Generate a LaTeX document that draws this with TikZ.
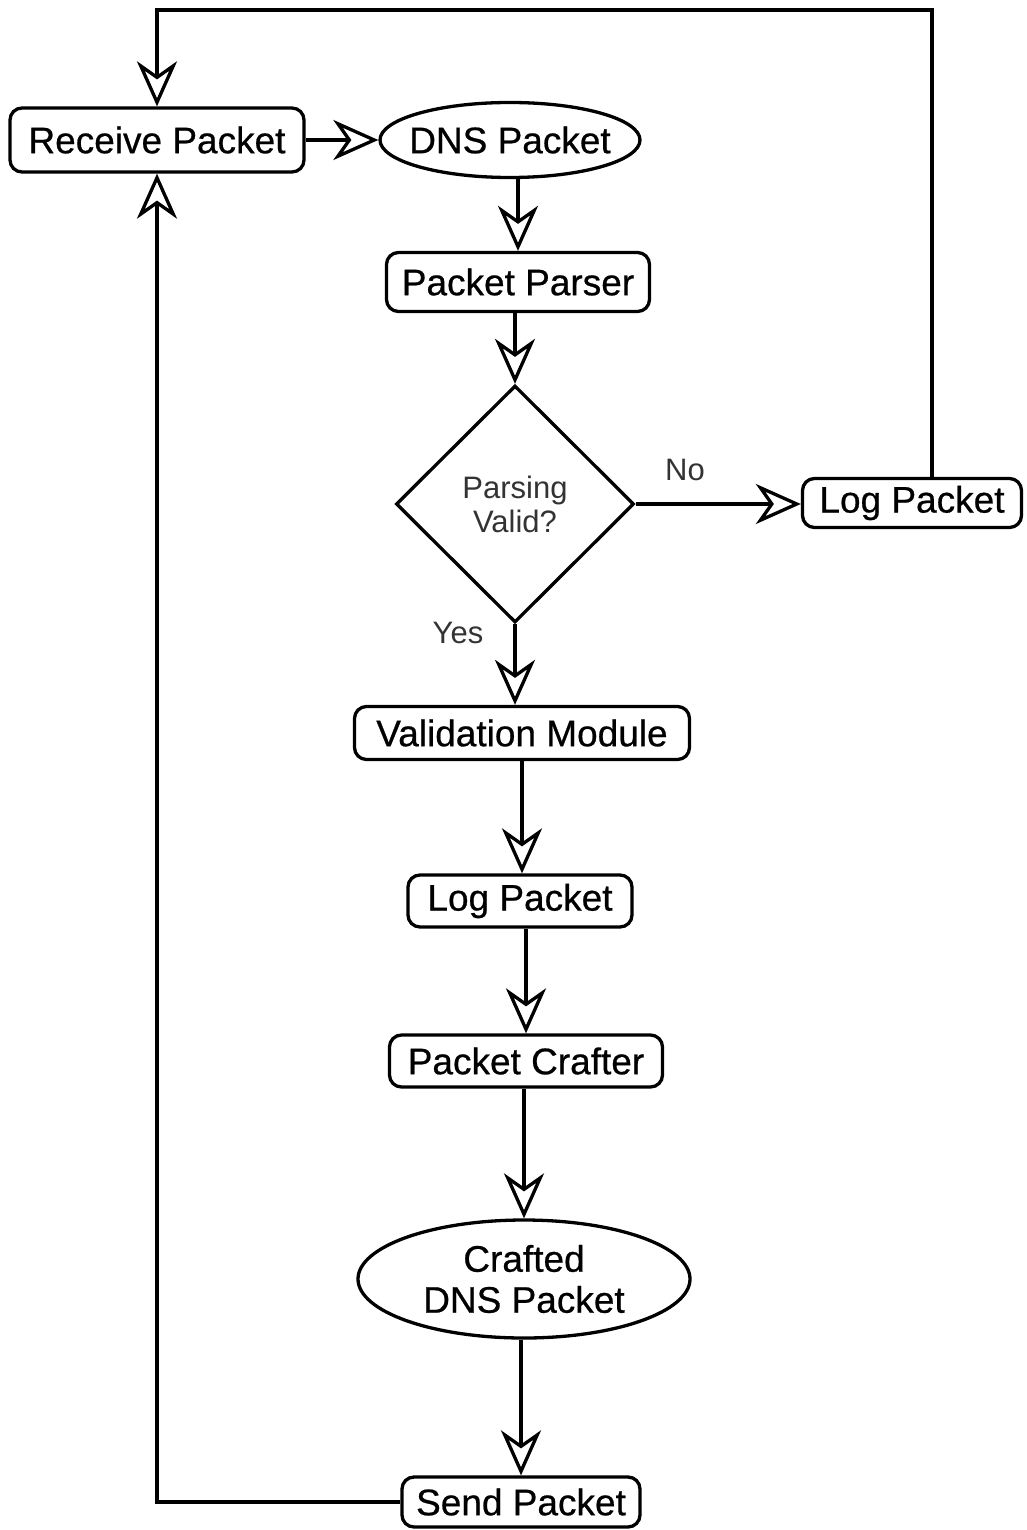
\documentclass[tikz,border=0pt]{standalone}
\usepackage{fontspec}
\setmainfont{Liberation Sans}
\newfontfamily\boxfont{Liberation Sans}[FakeBold=0.6]
\usetikzlibrary{arrows.meta,shapes.geometric}
\begin{document}
\begin{tikzpicture}[x=1pt,y=-1pt,
  box/.style={draw, line width=3.3pt, rounded corners=12pt, inner sep=0pt, fill=white,
    font=\boxfont\fontsize{37}{41}\selectfont},
  oval/.style={draw, ellipse, line width=3.3pt, inner sep=0pt, fill=white,
    font=\boxfont\fontsize{37}{41}\selectfont},
  dec/.style={draw, diamond, aspect=1, line width=3.3pt, inner sep=0pt, fill=white,
    font=\fontsize{31}{34}\selectfont, text=black!80, align=center},
  lbl/.style={font=\fontsize{31}{34}\selectfont, text=black!80, inner sep=0pt},
  arr/.style={line width=3.3pt, -{Stealth[open, length=45pt, width=40pt, inset=14pt]}}]
\useasboundingbox (0,0) rectangle (1026,1530);
\coordinate (topy) at (0,10);
\node[box, minimum width=294pt, minimum height=64pt] (recv) at (157,140) {Receive Packet};
\node[oval, minimum width=260pt, minimum height=75pt] (dns) at (510,140) {\makebox[0pt]{DNS Packet}};
\node[box, minimum width=263pt, minimum height=59pt] (pp) at (518,282) {Packet Parser};
\node[dec, minimum width=238pt, minimum height=237pt] (dia) at (515,504) {Parsing\\Valid?};
\node[box, minimum width=219pt, minimum height=49pt] (logr) at (912,503) {Log Packet};
\node[box, minimum width=335pt, minimum height=53pt] (vm) at (522,733) {Validation Module};
\node[box, minimum width=224pt, minimum height=52pt] (logm) at (520,901) {Log Packet};
\node[box, minimum width=273pt, minimum height=52pt] (pc) at (526,1061) {Packet Crafter};
\node[oval, minimum width=332pt, minimum height=118pt] (cr) at (524,1279)
  {\makebox[0pt]{\vbox{\hbox to 0pt{\hss Crafted\hss}\hbox to 0pt{\hss DNS Packet\hss}}}};
\node[box, minimum width=238pt, minimum height=50pt] (send) at (521,1502) {Send Packet};
\node[lbl] (no) at (685,470) {No};
\node[lbl] (yes) at (458,633) {Yes};
% connectors
\draw[arr] (recv.east) -- (dns.west);
\draw[arr] (dns.south -| pp) -- (pp.north);
\draw[arr] (pp.south -| dia) -- (dia.north);
\draw[arr] (dia.east) -- (dia.east -| logr.west);
\draw[arr] (dia.south) -- (dia.south |- vm.north);
\draw[arr] (vm.south) -- (vm.south |- logm.north);
\draw[arr] (logm.south -| pc) -- (pc.north);
\draw[arr] (pc.south -| cr) -- (cr.north);
\draw[arr] (cr.south -| send) -- (send.north);
\draw[arr] ([xshift=20pt]logr.north) -- ([xshift=20pt]logr.north |- topy) -| (recv.north);
\draw[arr] (send.west) -| (recv.south);
\end{tikzpicture}
\end{document}
